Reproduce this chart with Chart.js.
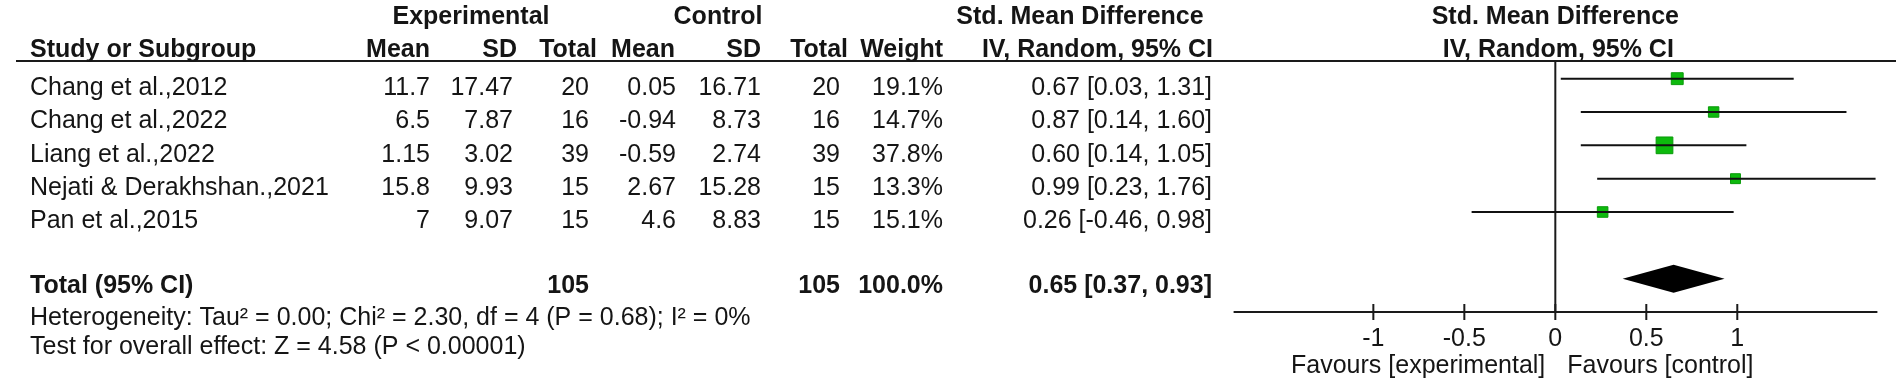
<!DOCTYPE html>
<html>
<head>
<meta charset="utf-8">
<script src="https://cdn.jsdelivr.net/npm/chart.js@4.4.1/dist/chart.umd.min.js"></script>
<style>
  html, body { margin: 0; padding: 0; background: #fff; }
  #wrap { width: 1902px; height: 392px; }
</style>
</head>
<body>
<div id="wrap"><canvas id="forest" width="1902" height="392"></canvas></div>
<script>
// study data
const studies = ["Chang et al.,2012", "Chang et al.,2022", "Liang et al.,2022", "Nejati & Derakhshan.,2021", "Pan et al.,2015"];
const expMean = [11.7, 6.5, 1.15, 15.8, 7];
const expSD = [17.47, 7.87, 3.02, 9.93, 9.07];
const expN = [20, 16, 39, 15, 15];
const ctlMean = [0.05, -0.94, -0.59, 2.67, 4.6];
const ctlSD = [16.71, 8.73, 2.74, 15.28, 8.83];
const ctlN = [20, 16, 39, 15, 15];
const weights = [19.1, 14.7, 37.8, 13.3, 15.1];
const smd = [0.67, 0.87, 0.60, 0.99, 0.26];
const ciLow = [0.03, 0.14, 0.14, 0.23, -0.46];
const ciHigh = [1.31, 1.60, 1.05, 1.76, 0.98];

// pooled result
const totalN = [105, 105];
const totalWeight = 100.0;
const totalSmd = 0.65;
const totalLow = 0.37;
const totalHigh = 0.93;
const totalRow = 6;

const tickValues = [-1, -0.5, 0, 0.5, 1];
const heterogeneity = "Heterogeneity: Tau\u00b2 = 0.00; Chi\u00b2 = 2.30, df = 4 (P = 0.68); I\u00b2 = 0%";
const overallTest = "Test for overall effect: Z = 4.58 (P < 0.00001)";

const FONT = "'Liberation Sans', Arial, sans-serif";
const INK = "#151515";

// table columns: header, header right edge, value right edge
const colHeads = ["Mean", "SD", "Total", "Mean", "SD", "Total", "Weight", "IV, Random, 95% CI"];
const headRight = [430, 517, 597, 675, 761, 848, 943, 1213];
const valRight = [430, 513, 589, 676, 761, 840, 943, 1212];

function txt(ctx, s, x, y, align, bold) {
    ctx.font = (bold ? "bold " : "") + "25px " + FONT;
    ctx.textAlign = align;
    ctx.textBaseline = "middle";
    ctx.fillStyle = INK;
    ctx.fillText(s, x, y);
}

const forestPlugin = {
    id: "forestPlugin",
    beforeDraw(chart) {
        const ctx = chart.ctx;
        ctx.save();
        ctx.fillStyle = "#fff";
        ctx.fillRect(0, 0, chart.width, chart.height);
        ctx.restore();
    },
    beforeDatasetsDraw(chart) {
        const { ctx, chartArea, scales } = chart;
        const x = scales.x;
        const axisY = chartArea.bottom;
        ctx.save();
        ctx.strokeStyle = "#1a1a1a";
        ctx.lineWidth = 2;
        // header underline
        ctx.beginPath();
        ctx.moveTo(16, 61);
        ctx.lineTo(1896, 61);
        ctx.stroke();
        // line of no effect
        const x0 = x.getPixelForValue(0);
        ctx.beginPath();
        ctx.moveTo(x0, chartArea.top);
        ctx.lineTo(x0, axisY);
        ctx.stroke();
        // x axis
        ctx.beginPath();
        ctx.moveTo(chartArea.left, axisY);
        ctx.lineTo(chartArea.right, axisY);
        ctx.stroke();
        tickValues.forEach(v => {
            const px = x.getPixelForValue(v);
            ctx.beginPath();
            ctx.moveTo(px, axisY - 8);
            ctx.lineTo(px, axisY + 8);
            ctx.stroke();
        });
        ctx.restore();
    },
    afterDatasetsDraw(chart) {
        const { ctx, scales } = chart;
        const x = scales.x, y = scales.y;
        // summary diamond
        const cy = y.getPixelForValue(totalRow);
        ctx.save();
        ctx.fillStyle = "#000";
        ctx.beginPath();
        ctx.moveTo(x.getPixelForValue(totalLow), cy);
        ctx.lineTo(x.getPixelForValue(totalSmd), cy - 14);
        ctx.lineTo(x.getPixelForValue(totalHigh), cy);
        ctx.lineTo(x.getPixelForValue(totalSmd), cy + 14);
        ctx.closePath();
        ctx.fill();
        ctx.restore();
    },
    afterDraw(chart) {
        const { ctx, chartArea, scales } = chart;
        const x = scales.x, y = scales.y;
        const x0 = x.getPixelForValue(0);
        ctx.save();
        // group headers
        txt(ctx, "Experimental", 471, 17, "center", true);
        txt(ctx, "Control", 718, 17, "center", true);
        txt(ctx, "Std. Mean Difference", 1080, 17, "center", true);
        txt(ctx, "Std. Mean Difference", x0, 17, "center", true);
        txt(ctx, "IV, Random, 95% CI", x0 + 3, 50, "center", true);
        txt(ctx, "Study or Subgroup", 30, 50, "left", true);
        colHeads.forEach((h, i) => txt(ctx, h, headRight[i], 50, "right", true));

        // study rows
        studies.forEach((s, i) => {
            const ty = y.getPixelForValue(i) + 9.5;
            const cells = [
                String(expMean[i]), String(expSD[i]), String(expN[i]),
                String(ctlMean[i]), String(ctlSD[i]), String(ctlN[i]),
                weights[i].toFixed(1) + "%",
                smd[i].toFixed(2) + " [" + ciLow[i].toFixed(2) + ", " + ciHigh[i].toFixed(2) + "]"
            ];
            txt(ctx, s, 30, ty, "left", false);
            cells.forEach((c, j) => txt(ctx, c, valRight[j], ty, "right", false));
        });

        // total row
        const tty = y.getPixelForValue(totalRow) + 7.5;
        txt(ctx, "Total (95% CI)", 30, tty, "left", true);
        txt(ctx, String(totalN[0]), valRight[2], tty, "right", true);
        txt(ctx, String(totalN[1]), valRight[5], tty, "right", true);
        txt(ctx, totalWeight.toFixed(1) + "%", valRight[6], tty, "right", true);
        txt(ctx, totalSmd.toFixed(2) + " [" + totalLow.toFixed(2) + ", " + totalHigh.toFixed(2) + "]", valRight[7], tty, "right", true);
        txt(ctx, heterogeneity, 30, tty + 32, "left", false);
        txt(ctx, overallTest, 30, tty + 61, "left", false);

        // axis labels
        const axisY = chartArea.bottom;
        tickValues.forEach(v => txt(ctx, String(v), x.getPixelForValue(v), axisY + 27, "center", false));
        txt(ctx, "Favours [experimental]", x0 - 10, axisY + 54, "right", false);
        txt(ctx, "Favours [control]", x0 + 12, axisY + 54, "left", false);
        ctx.restore();
    }
};

// CI whiskers, one small dataset per study
const ciSets = studies.map((s, i) => ({
    label: s,
    data: [{ x: ciLow[i], y: i }, { x: ciHigh[i], y: i }],
    showLine: true,
    borderColor: "#111",
    borderWidth: 2,
    pointRadius: 0
}));

// squares sized by weight (side ~ sqrt of weight)
const squareSet = {
    label: "SMD",
    data: smd.map((v, i) => ({ x: v, y: i })),
    pointStyle: "rect",
    pointRadius: weights.map(w => 2.72 * Math.sqrt(w) / Math.SQRT2),
    backgroundColor: "#0dba0d",
    borderColor: "#0a9a0a",
    borderWidth: 1
};

new Chart(document.getElementById("forest").getContext("2d"), {
    type: "scatter",
    data: { datasets: ciSets.concat([squareSet]) },
    options: {
        responsive: false,
        animation: false,
        devicePixelRatio: 1,
        layout: { padding: { left: 1233.6, right: 24.6, top: 62, bottom: 80 } },
        scales: {
            x: { type: "linear", min: -1.768, max: 1.77, display: false },
            y: { type: "linear", min: -0.5, max: 7, reverse: true, display: false }
        },
        plugins: { legend: { display: false }, tooltip: { enabled: false } }
    },
    plugins: [forestPlugin]
});
</script>
</body>
</html>
